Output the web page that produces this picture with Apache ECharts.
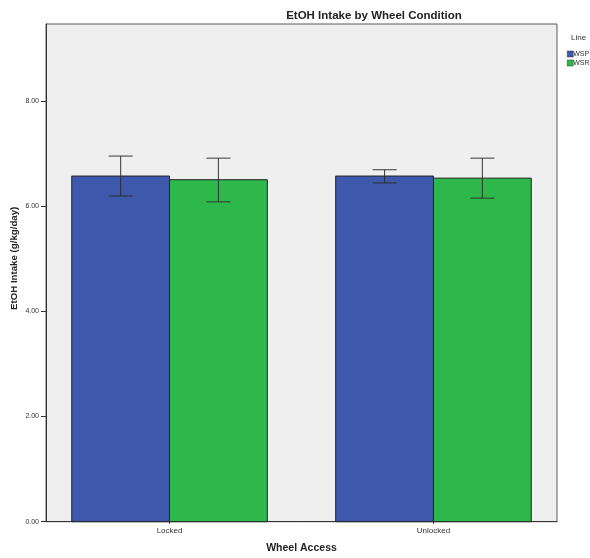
<!DOCTYPE html>
<html>
<head>
<meta charset="utf-8">
<script src="https://cdn.jsdelivr.net/npm/echarts@6/dist/echarts.min.js"></script>
<style>
  html, body { margin: 0; padding: 0; background: #ffffff; }
  #chart { width: 590px; height: 558px; }
</style>
</head>
<body>
<div id="chart"></div>
<script>
// Wheel access conditions (x positions 1 and 2 on the value axis)
const categories = ['Locked', 'Unlocked'];
const lines = ['WSP', 'WSR'];

// Mean EtOH intake (g/kg/day) with error bar limits
const wspMean = [6.57, 6.57];
const wspLow = [6.19, 6.44];
const wspHigh = [6.95, 6.69];

const wsrMean = [6.50, 6.53];
const wsrLow = [6.08, 6.15];
const wsrHigh = [6.91, 6.91];

const yTicks = [0, 2, 4, 6, 8];

const COLORS = { WSP: '#3e58ac', WSR: '#2eb84b' };
const BAR_W = 0.3705;   // bar width in axis units
const CAP_HALF = 12;    // error bar cap half width, px

function barSeries(name, means, side) {
  return {
    name: name,
    type: 'custom',
    itemStyle: { color: COLORS[name], borderColor: '#222', borderWidth: 0.6 },
    data: means.map((m, i) => [i + 1, m]),
    renderItem: function (params, api) {
      const x = api.value(0);
      const x0 = side < 0 ? x - BAR_W : x;
      const x1 = side < 0 ? x : x + BAR_W;
      const p0 = api.coord([x0, api.value(1)]);
      const p1 = api.coord([x1, 0]);
      return {
        type: 'rect',
        shape: { x: p0[0], y: p0[1], width: p1[0] - p0[0], height: p1[1] - p0[1] },
        style: { fill: COLORS[name], stroke: '#222', lineWidth: 1 }
      };
    },
    z: 2
  };
}

function errSeries(name, lows, highs, side) {
  return {
    name: name + ' CI',
    type: 'custom',
    data: lows.map((l, i) => [i + 1, l, highs[i]]),
    renderItem: function (params, api) {
      const xc = api.value(0) + side * BAR_W / 2;
      const lo = api.coord([xc, api.value(1)]);
      const hi = api.coord([xc, api.value(2)]);
      const st = { stroke: '#2a2a2a', lineWidth: 1.1, opacity: 0.85 };
      return {
        type: 'group',
        children: [
          { type: 'line', shape: { x1: lo[0], y1: lo[1], x2: hi[0], y2: hi[1] }, style: st },
          { type: 'line', shape: { x1: hi[0] - CAP_HALF, y1: hi[1], x2: hi[0] + CAP_HALF, y2: hi[1] }, style: st },
          { type: 'line', shape: { x1: lo[0] - CAP_HALF, y1: lo[1], x2: lo[0] + CAP_HALF, y2: lo[1] }, style: st }
        ]
      };
    },
    z: 3
  };
}

const chart = echarts.init(document.getElementById('chart'), null, { renderer: 'canvas' });

chart.setOption({
  animation: false,
  backgroundColor: '#ffffff',
  textStyle: { fontFamily: 'Liberation Sans, Arial, sans-serif' },
  title: [
    {
      text: 'EtOH Intake by Wheel Condition',
      left: 369, top: 5, textAlign: 'center',
      textStyle: { fontSize: 11.5, fontWeight: 'bold', color: '#222', fontFamily: 'Liberation Sans, Arial, sans-serif' }
    },
    {
      text: 'Line',
      left: 566, top: 29,
      textStyle: { fontSize: 8, fontWeight: 'normal', color: '#333', fontFamily: 'Liberation Sans, Arial, sans-serif' }
    }
  ],
  legend: {
    orient: 'vertical',
    left: 562, top: 45,
    itemWidth: 6, itemHeight: 6, itemGap: 1,
    selectedMode: false,
    data: lines.map(n => ({ name: n, icon: 'rect' })),
    itemStyle: { borderColor: '#333', borderWidth: 0.5 },
    textStyle: { fontSize: 7, color: '#333', lineHeight: 8, padding: [0, 0, 0, -5] }
  },
  grid: {
    left: 46, top: 24, width: 511, height: 497.7,
    outerBoundsMode: 'none',
    containLabel: false,
    show: true, backgroundColor: '#efefef', borderColor: '#5a5a5a', borderWidth: 1
  },
  xAxis: {
    type: 'value',
    min: 0.532, max: 2.468,
    name: 'Wheel Access',
    nameLocation: 'middle', nameGap: 21,
    nameMoveOverlap: false,
    nameTextStyle: { fontSize: 10.5, fontWeight: 'bold', color: '#222' },
    axisLine: { lineStyle: { color: '#333' } },
    axisTick: { customValues: [1, 2], length: 2, lineStyle: { color: '#333' } },
    axisLabel: {
      customValues: [1, 2], margin: 5, fontSize: 8, color: '#333',
      formatter: v => categories[Math.round(v) - 1]
    },
    splitLine: { show: false }
  },
  yAxis: {
    type: 'value',
    min: 0, max: 9.46,
    name: 'EtOH Intake (g/kg/day)',
    nameLocation: 'middle', nameGap: 27,
    nameMoveOverlap: false,
    nameTextStyle: { fontSize: 9.7, fontWeight: 'bold', color: '#222', padding: [0, 0, 0, 29] },
    axisLine: { show: true, lineStyle: { color: '#333' } },
    axisTick: { show: true, customValues: yTicks, length: 5, lineStyle: { color: '#333' } },
    axisLabel: {
      customValues: yTicks, margin: 7, fontSize: 7, color: '#333',
      formatter: v => v.toFixed(2)
    },
    splitLine: { show: false }
  },
  series: [
    barSeries('WSP', wspMean, -1),
    barSeries('WSR', wsrMean, 1),
    errSeries('WSP', wspLow, wspHigh, -1),
    errSeries('WSR', wsrLow, wsrHigh, 1)
  ]
});
</script>
</body>
</html>
